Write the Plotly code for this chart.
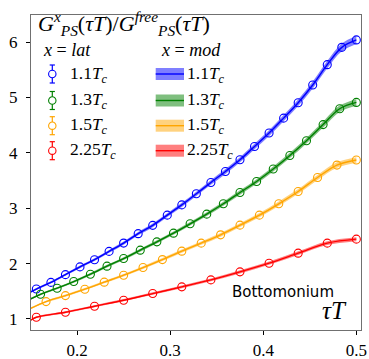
import plotly.graph_objects as go

# ---------------- data ----------------
labels = ["1.1", "1.3", "1.5", "2.25"]
colors = ["#0000ff", "#008000", "#ffa500", "#ff0000"]
band_colors = ["rgba(0,0,255,0.5)", "rgba(0,128,0,0.5)", "rgba(255,165,0,0.5)", "rgba(255,0,0,0.5)"]

# lattice points: tau*T = n / N_tau
ntau = [64, 56, 48, 32]
n_start = [10, 9, 8, 5]

lat_11 = [1.54, 1.66, 1.80, 1.94, 2.07, 2.22, 2.37, 2.54, 2.69, 2.875, 3.06, 3.26,
          3.465, 3.664, 3.875, 4.116, 4.358, 4.627, 4.906, 5.226, 5.593, 5.906, 6.04]
lat_13 = [1.445, 1.555, 1.675, 1.808, 1.953, 2.091, 2.242, 2.392, 2.549, 2.718,
          2.893, 3.080, 3.284, 3.483, 3.707, 3.953, 4.219, 4.51, 4.797, 4.911]
lat_15 = [1.313, 1.421, 1.537, 1.664, 1.790, 1.928, 2.072, 2.224, 2.369, 2.519,
          2.694, 2.875, 3.080, 3.302, 3.555, 3.779, 3.870]
lat_225 = [1.030, 1.121, 1.230, 1.338, 1.458, 1.579, 1.705, 1.850, 2.007, 2.188,
           2.369, 2.441]
lat_vals = [lat_11, lat_13, lat_15, lat_225]

# model curves: value at left edge, then through the lattice tau values
model_x0 = 0.15
model_y0 = [1.485, 1.36, 1.19, 0.975]
model_rel_err = [0.012, 0.012, 0.013, 0.015]

xticks = [0.2, 0.3, 0.4, 0.5]
yticks = [1, 2, 3, 4, 5, 6]

# ---------------- figure ----------------
W, H = 369, 359
ML, MR, MT, MB = 31, 8, 15, 29
PW, PH = W - ML - MR, H - MT - MB


def px(x):
    return (x - ML) / PW


def py(y):
    return (H - MB - y) / PH


SERIF = "Liberation Serif, DejaVu Serif, serif"
fig = go.Figure()

for i in range(4):
    xs = [(n_start[i] + k) / ntau[i] for k in range(len(lat_vals[i]))]
    mx = [model_x0] + xs
    my = [model_y0[i]] + lat_vals[i]
    lo = [v * (1 - model_rel_err[i]) for v in my]
    hi = [v * (1 + model_rel_err[i]) for v in my]
    fig.add_trace(go.Scatter(x=mx, y=lo, mode="lines", line=dict(width=0, shape="spline"),
                             showlegend=False, hoverinfo="skip"))
    fig.add_trace(go.Scatter(x=mx, y=hi, mode="lines", line=dict(width=0, shape="spline"),
                             fill="tonexty", fillcolor=band_colors[i],
                             showlegend=False, hoverinfo="skip"))
    fig.add_trace(go.Scatter(x=mx, y=my, mode="lines",
                             line=dict(color=colors[i], width=1.4, shape="spline"),
                             showlegend=False))
    fig.add_trace(go.Scatter(x=xs, y=lat_vals[i], mode="markers",
                             marker=dict(symbol="circle-open", size=8, color=colors[i],
                                         line=dict(width=1.1, color=colors[i])),
                             showlegend=False))

# ---------------- manual legend ----------------
shapes = []
annotations = []
rows = [74, 100.5, 125.7, 150.7]
for i in range(4):
    yc = py(rows[i])
    xc = px(52.3)
    # errorbar icon
    shapes.append(dict(type="line", xref="paper", yref="paper", xsizemode="pixel", ysizemode="pixel",
                       xanchor=xc, yanchor=yc, x0=0, x1=0, y0=-9, y1=9,
                       line=dict(color=colors[i], width=1.2)))
    for cy in (-9, 9):
        shapes.append(dict(type="line", xref="paper", yref="paper", xsizemode="pixel", ysizemode="pixel",
                           xanchor=xc, yanchor=yc, x0=-2.6, x1=2.6, y0=cy, y1=cy,
                           line=dict(color=colors[i], width=1.2)))
    shapes.append(dict(type="circle", xref="paper", yref="paper", xsizemode="pixel", ysizemode="pixel",
                       xanchor=xc, yanchor=yc, x0=-3.7, x1=3.7, y0=-3.7, y1=3.7,
                       fillcolor="white", line=dict(color=colors[i], width=1.1)))
    annotations.append(dict(x=px(68), y=yc, xref="paper", yref="paper", xanchor="left", yanchor="middle",
                            text=labels[i] + "<i>T<sub>c</sub></i>", showarrow=False,
                            font=dict(family=SERIF, size=17.5, color="black")))
    # band icon
    shapes.append(dict(type="rect", xref="paper", yref="paper", x0=px(155.7), x1=px(184),
                       y0=py(rows[i] + 6), y1=py(rows[i] - 6), fillcolor=band_colors[i], line=dict(width=0)))
    shapes.append(dict(type="line", xref="paper", yref="paper", x0=px(155.7), x1=px(184),
                       y0=yc, y1=yc, line=dict(color=colors[i], width=1.4)))
    annotations.append(dict(x=px(184.5), y=yc, xref="paper", yref="paper", xanchor="left", yanchor="middle",
                            text=labels[i] + "<i>T<sub>c</sub></i>", showarrow=False,
                            font=dict(family=SERIF, size=17.5, color="black")))

annotations.append(dict(x=px(41), y=py(50), xref="paper", yref="paper", xanchor="left", yanchor="middle",
                        text="<i>x</i> = <i>lat</i>", showarrow=False,
                        font=dict(family=SERIF, size=18, color="black")))
annotations.append(dict(x=px(159), y=py(50), xref="paper", yref="paper", xanchor="left", yanchor="middle",
                        text="<i>x</i> = <i>mod</i>", showarrow=False,
                        font=dict(family=SERIF, size=18, color="black")))
annotations.append(dict(x=px(36), y=py(23), xref="paper", yref="paper", xanchor="left", yanchor="middle",
                        text="<i>G</i><sup><i>x</i></sup><sub><i>PS</i></sub>(<i>τT</i>)/"
                             "<i>G</i><sup><i>free</i></sup><sub><i>PS</i></sub>(<i>τT</i>)",
                        showarrow=False, font=dict(family=SERIF, size=22, color="black")))
annotations.append(dict(x=px(336), y=py(291.5), xref="paper", yref="paper", xanchor="right", yanchor="middle",
                        text="Bottomonium", showarrow=False,
                        font=dict(family="DejaVu Sans", size=15, color="black")))
annotations.append(dict(x=px(349), y=py(310), xref="paper", yref="paper", xanchor="right", yanchor="middle",
                        text="<i>τT</i>", showarrow=False,
                        font=dict(family=SERIF, size=25, color="black")))

axis_common = dict(showgrid=False, zeroline=False, showline=True, mirror=True, automargin=False,
                   linecolor="#707070", linewidth=1.3, ticks="outside", ticklen=4,
                   tickcolor="black", tickwidth=1.1,
                   tickfont=dict(family=SERIF, size=17, color="black"))

fig.update_layout(
    width=W, height=H,
    margin=dict(l=ML, r=MR, t=MT, b=MB, pad=0, autoexpand=False),
    paper_bgcolor="white", plot_bgcolor="white",
    xaxis=dict(range=[0.1505, 0.505], tickvals=xticks, ticktext=[str(v) for v in xticks], **axis_common),
    yaxis=dict(range=[0.80, 6.49], tickvals=yticks, ticktext=[str(v) for v in yticks],
               ticklabelstandoff=5, **axis_common),
    shapes=shapes, annotations=annotations, showlegend=False,
)

fig.write_html("out.html")
